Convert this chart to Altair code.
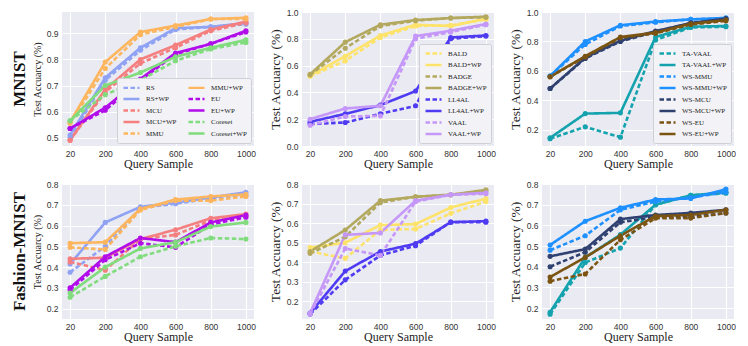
import altair as alt
import pandas as pd

QUERY = ["20", "200", "400", "600", "800", "1000"]

# ---- MNIST ----
MNIST_BASIC = {
    "RS":         [0.500, 0.720, 0.835, 0.915, 0.925, 0.935],
    "RS+WP":      [0.510, 0.730, 0.845, 0.920, 0.925, 0.940],
    "MCU":        [0.490, 0.675, 0.785, 0.845, 0.910, 0.940],
    "MCU+WP":     [0.490, 0.685, 0.800, 0.855, 0.915, 0.945],
    "MMU":        [0.555, 0.765, 0.895, 0.925, 0.955, 0.955],
    "MMU+WP":     [0.560, 0.790, 0.905, 0.930, 0.955, 0.960],
    "EU":         [0.535, 0.605, 0.720, 0.820, 0.860, 0.905],
    "EU+WP":      [0.535, 0.615, 0.725, 0.825, 0.860, 0.910],
    "Coreset":    [0.565, 0.665, 0.720, 0.795, 0.840, 0.865],
    "Coreset+WP": [0.565, 0.700, 0.750, 0.810, 0.845, 0.875],
}
MNIST_DEEP = {
    "BALD":     [0.520, 0.635, 0.810, 0.895, 0.900, 0.945],
    "BALD+WP":  [0.525, 0.670, 0.825, 0.905, 0.895, 0.950],
    "BADGE":    [0.530, 0.730, 0.895, 0.935, 0.955, 0.960],
    "BADGE+WP": [0.535, 0.775, 0.905, 0.940, 0.955, 0.965],
    "LL4AL":    [0.165, 0.175, 0.240, 0.300, 0.800, 0.820],
    "LL4AL+WP": [0.180, 0.240, 0.305, 0.410, 0.810, 0.825],
    "VAAL":     [0.155, 0.220, 0.225, 0.800, 0.850, 0.905],
    "VAAL+WP":  [0.200, 0.280, 0.300, 0.820, 0.860, 0.910],
}
MNIST_WS = {
    "TA-VAAL":    [0.140, 0.220, 0.150, 0.810, 0.895, 0.900],
    "TA-VAAL+WP": [0.145, 0.310, 0.315, 0.830, 0.900, 0.905],
    "WS-MMU":     [0.565, 0.780, 0.905, 0.930, 0.950, 0.955],
    "WS-MMU+WP":  [0.565, 0.800, 0.910, 0.935, 0.950, 0.960],
    "WS-MCU":     [0.480, 0.685, 0.800, 0.865, 0.925, 0.950],
    "WS-MCU+WP":  [0.480, 0.690, 0.805, 0.870, 0.925, 0.955],
    "WS-EU":      [0.560, 0.695, 0.825, 0.855, 0.915, 0.940],
    "WS-EU+WP":   [0.560, 0.700, 0.830, 0.860, 0.920, 0.945],
}

# ---- Fashion-MNIST ----
FASHION_BASIC = {
    "RS":         [0.375, 0.500, 0.685, 0.705, 0.730, 0.745],
    "RS+WP":      [0.415, 0.615, 0.690, 0.710, 0.735, 0.760],
    "MCU":        [0.425, 0.385, 0.535, 0.555, 0.625, 0.645],
    "MCU+WP":     [0.440, 0.445, 0.535, 0.580, 0.635, 0.655],
    "MMU":        [0.495, 0.485, 0.675, 0.720, 0.720, 0.740],
    "MMU+WP":     [0.515, 0.520, 0.680, 0.725, 0.740, 0.750],
    "EU":         [0.290, 0.435, 0.515, 0.495, 0.605, 0.640],
    "EU+WP":      [0.300, 0.450, 0.540, 0.520, 0.615, 0.650],
    "Coreset":    [0.255, 0.355, 0.450, 0.500, 0.540, 0.535],
    "Coreset+WP": [0.275, 0.400, 0.490, 0.520, 0.595, 0.615],
}
FASHION_DEEP = {
    "BALD":     [0.455, 0.420, 0.565, 0.570, 0.650, 0.710],
    "BALD+WP":  [0.475, 0.500, 0.590, 0.595, 0.680, 0.725],
    "BADGE":    [0.445, 0.530, 0.705, 0.735, 0.745, 0.765],
    "BADGE+WP": [0.455, 0.565, 0.715, 0.735, 0.745, 0.770],
    "LL4AL":    [0.135, 0.310, 0.435, 0.485, 0.605, 0.605],
    "LL4AL+WP": [0.140, 0.355, 0.455, 0.495, 0.605, 0.610],
    "VAAL":     [0.135, 0.470, 0.435, 0.710, 0.745, 0.750],
    "VAAL+WP":  [0.140, 0.540, 0.550, 0.715, 0.745, 0.755],
}
FASHION_WS = {
    "TA-VAAL":    [0.170, 0.420, 0.490, 0.700, 0.745, 0.755],
    "TA-VAAL+WP": [0.180, 0.445, 0.555, 0.700, 0.745, 0.760],
    "WS-MMU":     [0.480, 0.550, 0.675, 0.715, 0.735, 0.760],
    "WS-MMU+WP":  [0.505, 0.620, 0.685, 0.725, 0.730, 0.775],
    "WS-MCU":     [0.400, 0.470, 0.615, 0.640, 0.640, 0.660],
    "WS-MCU+WP":  [0.450, 0.485, 0.630, 0.650, 0.660, 0.675],
    "WS-EU":      [0.330, 0.365, 0.530, 0.635, 0.635, 0.660],
    "WS-EU+WP":   [0.350, 0.445, 0.550, 0.645, 0.650, 0.675],
}

BASE_COLORS = {
    "RS": "#8FA2F4", "MCU": "#F57F7F", "MMU": "#FDB55E", "EU": "#B10DEB",
    "Coreset": "#80DC7C", "BALD": "#FDE36A", "BADGE": "#B3A95E",
    "LL4AL": "#4F3BF2", "VAAL": "#C597F8", "TA-VAAL": "#14A3AE",
    "WS-MMU": "#1E90FF", "WS-MCU": "#2F4170", "WS-EU": "#7B5412",
}

ORDER_BASIC = list(MNIST_BASIC.keys())
ORDER_DEEP = list(MNIST_DEEP.keys())
ORDER_WS = list(MNIST_WS.keys())


def color_of(name):
    return BASE_COLORS[name.replace("+WP", "")]


def dash_of(name):
    return [1, 0] if name.endswith("+WP") else [4.5, 2.5]


def panel(data, order, ydom, yticks, fmt, ytitle_size, show_legend,
          legend_cols=1, row_label=None, height=134):
    rows = []
    for i, name in enumerate(data):
        for q, v in zip(QUERY, data[name]):
            rows.append({"q": q, "acc": v, "method": name, "k": i})
    df = pd.DataFrame(rows)
    if show_legend:
        leg = alt.Legend(title=None, orient="bottom-right", columns=legend_cols,
                         fillColor="#F3F3F7", strokeColor="#CFCFD6",
                         padding=4, offset=3, labelFont="Liberation Serif",
                         labelFontSize=7, labelColor="#222",
                         symbolType="M-2,0L2,0", symbolSize=64,
                         symbolOffset=5, labelOffset=9,
                         symbolStrokeWidth=2.4, rowPadding=0.5,
                         columnPadding=6, labelLimit=120, cornerRadius=2)
    else:
        leg = None
    color = alt.Color("method:N",
                      scale=alt.Scale(domain=order, range=[color_of(n) for n in order]),
                      legend=leg)
    dash = alt.StrokeDash("method:N",
                          scale=alt.Scale(domain=order, range=[dash_of(n) for n in order]),
                          legend=leg)
    lines = alt.Chart(df).mark_line(
        strokeWidth=2.6,
        point=alt.OverlayMarkDef(filled=True, size=26),
    ).encode(
        x=alt.X("q:O", sort=QUERY,
                scale=alt.Scale(type="point", padding=0.23),
                axis=alt.Axis(title="Query Sample", labelAngle=0, grid=True,
                              titleFontSize=12, titlePadding=1, labelPadding=3)),
        y=alt.Y("acc:Q",
                scale=alt.Scale(domain=ydom, nice=False, zero=False),
                axis=alt.Axis(values=yticks, format=fmt,
                              title="Test Accuarcy (%)",
                              titleFontSize=ytitle_size, titlePadding=4)),
        color=color,
        strokeDash=dash,
        order=alt.Order("k:Q"),
    ).properties(width=192, height=height)
    if row_label is None:
        return lines
    lab = alt.Chart(pd.DataFrame({"t": [row_label]})).mark_text(
        angle=270, font="Liberation Serif", fontWeight="bold", fontSize=17,
        color="#111"
    ).encode(text="t:N", x=alt.value(-42), y=alt.value(height / 2))
    return alt.layer(lines, lab)


T1 = [0.5, 0.6, 0.7, 0.8, 0.9]
T2 = [0.0, 0.2, 0.4, 0.6, 0.8, 1.0]
T3 = [0.2, 0.4, 0.6, 0.8, 1.0]
T4 = [0.2, 0.3, 0.4, 0.5, 0.6, 0.7, 0.8]

row1 = alt.hconcat(
    panel(MNIST_BASIC, ORDER_BASIC, [0.468, 0.982], T1, ".1f", 10, True, 2, "MNIST"),
    panel(MNIST_DEEP, ORDER_DEEP, [0.0, 1.0], T2, ".1f", 13.5, True),
    panel(MNIST_WS, ORDER_WS, [0.09, 1.0], T3, ".1f", 13.5, True),
    spacing=12,
).resolve_scale(color="independent", strokeDash="independent",
                y="independent", x="independent")

row2 = alt.hconcat(
    panel(FASHION_BASIC, ORDER_BASIC, [0.15, 0.8], T4, ".1f", 10, False, 2,
          "Fashion-MNIST", height=135),
    panel(FASHION_DEEP, ORDER_DEEP, [0.11, 0.8], T4, ".1f", 13.5, False, height=135),
    panel(FASHION_WS, ORDER_WS, [0.147, 0.8], T4, ".1f", 13.5, False, height=135),
    spacing=12,
).resolve_scale(color="independent", strokeDash="independent",
                y="independent", x="independent")

chart = alt.vconcat(row1, row2, spacing=10).resolve_scale(
    color="independent", strokeDash="independent", y="independent", x="independent"
).properties(
    padding={"left": 3, "top": 0, "right": 0, "bottom": 0},
    background="white",
).configure_view(
    fill="#EAEAF2", stroke=None
).configure_axis(
    domain=False, ticks=False, gridColor="white", gridWidth=1.1,
    labelFont="Liberation Sans", labelFontSize=8.5, labelColor="#333",
    labelPadding=4, titleFont="Liberation Serif", titleFontWeight="normal",
    titleColor="#222",
)

chart.save("out.html", embed_options={"renderer": "svg", "actions": False})
